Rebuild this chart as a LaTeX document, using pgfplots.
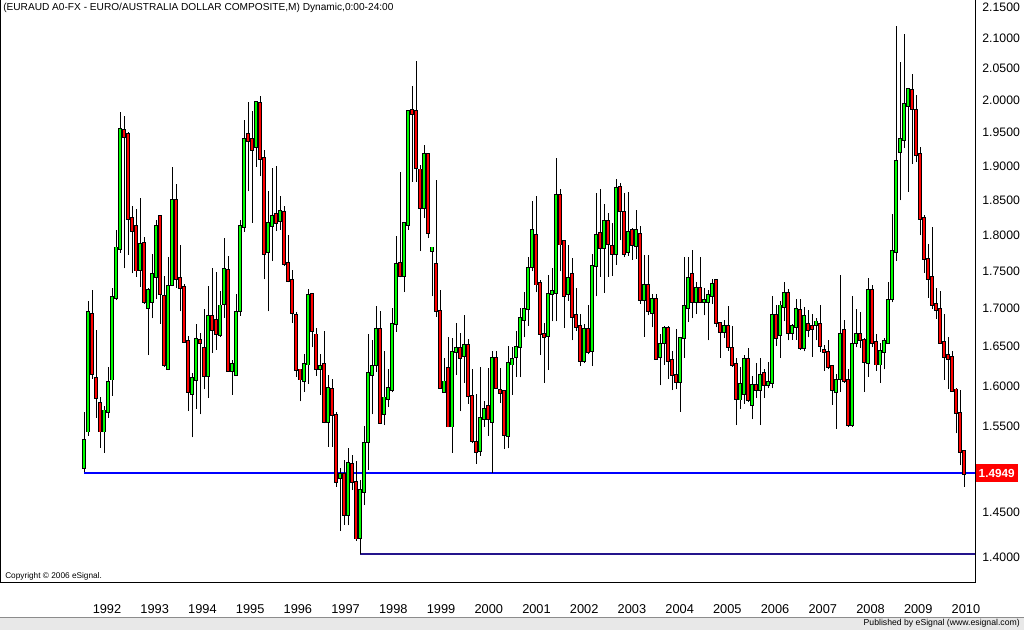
\documentclass[border=0pt]{standalone}
\usepackage{fontspec}
\setmainfont{Liberation Sans}
\usepackage{pgfplots}
\usepackage{pgfplotstable}
\pgfplotsset{compat=1.18}
\definecolor{cgreen}{RGB}{0,255,0}
\definecolor{cred}{RGB}{255,0,0}
\definecolor{navyline}{RGB}{36,20,140}
\definecolor{footgray}{RGB}{232,232,232}

% monthly candles: t = month index, O H L C
\pgfplotstableread{
t O H L C
0 1.502 1.568 1.496 1.533
1 1.545 1.710 1.539 1.695
5 1.545 1.575 1.519 1.569
6 1.569 1.624 1.561 1.604
7 1.609 1.728 1.588 1.714
8 1.715 1.808 1.711 1.782
9 1.782 1.982 1.776 1.955
14 1.753 1.853 1.729 1.787
16 1.701 1.727 1.639 1.724
17 1.710 1.774 1.687 1.746
18 1.743 1.822 1.713 1.812
21 1.622 1.770 1.620 1.729
22 1.732 1.898 1.730 1.850
27 1.591 1.616 1.537 1.609
28 1.608 1.680 1.572 1.659
31 1.613 1.730 1.585 1.689
34 1.666 1.723 1.663 1.703
35 1.707 1.796 1.688 1.753
37 1.620 1.633 1.589 1.627
38 1.615 1.719 1.613 1.695
39 1.697 1.822 1.690 1.812
40 1.813 1.970 1.805 1.939
43 1.929 1.998 1.899 1.997
46 1.777 1.863 1.696 1.816
47 1.814 1.897 1.764 1.827
49 1.821 1.856 1.808 1.834
55 1.607 1.640 1.593 1.627
56 1.628 1.726 1.603 1.717
59 1.622 1.641 1.589 1.625
61 1.556 1.614 1.526 1.597
64 1.490 1.501 1.429 1.493
66 1.447 1.525 1.435 1.506
69 1.422 1.487 1.403 1.475
70 1.474 1.551 1.458 1.530
71 1.532 1.667 1.499 1.616
72 1.615 1.658 1.565 1.625
73 1.627 1.703 1.618 1.672
75 1.566 1.645 1.552 1.585
76 1.585 1.621 1.574 1.597
77 1.596 1.700 1.592 1.679
78 1.680 1.799 1.669 1.759
80 1.744 1.818 1.722 1.817
81 1.816 1.984 1.808 1.983
85 1.840 1.931 1.824 1.918
87 1.779 1.783 1.716 1.782
90 1.593 1.636 1.592 1.605
92 1.551 1.661 1.519 1.643
93 1.644 1.681 1.614 1.648
95 1.639 1.691 1.604 1.651
99 1.522 1.624 1.515 1.560
100 1.560 1.582 1.550 1.571
102 1.557 1.645 1.495 1.635
106 1.540 1.651 1.524 1.628
107 1.628 1.650 1.589 1.633
108 1.637 1.671 1.612 1.649
109 1.650 1.700 1.611 1.686
110 1.686 1.722 1.662 1.698
111 1.700 1.769 1.677 1.754
112 1.757 1.849 1.750 1.807
116 1.665 1.745 1.620 1.719
117 1.720 1.754 1.683 1.723
118 1.721 1.912 1.683 1.856
121 1.720 1.787 1.710 1.740
125 1.633 1.680 1.629 1.672
127 1.645 1.774 1.625 1.757
128 1.758 1.861 1.716 1.799
130 1.783 1.845 1.721 1.820
133 1.775 1.881 1.759 1.867
136 1.777 1.862 1.771 1.804
138 1.786 1.836 1.767 1.806
140 1.712 1.773 1.663 1.731
142 1.695 1.720 1.675 1.712
144 1.637 1.667 1.601 1.653
145 1.656 1.677 1.627 1.673
149 1.606 1.662 1.568 1.661
150 1.662 1.770 1.636 1.702
151 1.701 1.770 1.682 1.740
153 1.709 1.736 1.693 1.726
155 1.710 1.728 1.691 1.711
156 1.710 1.725 1.658 1.717
157 1.717 1.739 1.706 1.732
160 1.670 1.685 1.661 1.676
164 1.584 1.624 1.572 1.602
165 1.591 1.639 1.578 1.634
167 1.577 1.613 1.559 1.600
169 1.596 1.636 1.552 1.613
171 1.602 1.630 1.597 1.604
172 1.605 1.716 1.597 1.690
174 1.666 1.710 1.636 1.703
175 1.703 1.735 1.683 1.720
177 1.669 1.679 1.659 1.676
178 1.677 1.712 1.659 1.699
180 1.649 1.702 1.644 1.689
183 1.679 1.687 1.658 1.682
188 1.593 1.615 1.547 1.607
189 1.610 1.745 1.593 1.666
192 1.553 1.716 1.550 1.653
193 1.655 1.699 1.649 1.666
196 1.630 1.741 1.612 1.724
199 1.628 1.655 1.604 1.644
200 1.644 1.661 1.621 1.656
201 1.656 1.736 1.655 1.710
202 1.713 1.830 1.708 1.777
203 1.778 2.120 1.764 1.906
204 1.922 2.061 1.850 1.939
205 1.940 2.107 1.927 1.993
206 1.993 2.018 1.862 2.017
}\up

\pgfplotstableread{
t O H L C
2 1.692 1.724 1.609 1.616
3 1.609 1.672 1.561 1.586
4 1.578 1.586 1.525 1.545
10 1.954 1.976 1.754 1.945
11 1.948 1.951 1.773 1.824
12 1.824 1.842 1.747 1.807
13 1.812 1.837 1.743 1.752
15 1.788 1.797 1.706 1.710
19 1.826 1.829 1.680 1.720
20 1.716 1.744 1.624 1.627
23 1.850 1.874 1.728 1.740
24 1.740 1.787 1.696 1.728
25 1.728 1.733 1.655 1.657
26 1.657 1.664 1.569 1.593
29 1.658 1.668 1.565 1.655
30 1.647 1.699 1.596 1.613
32 1.689 1.755 1.642 1.672
33 1.684 1.749 1.646 1.667
36 1.751 1.771 1.618 1.620
41 1.948 1.998 1.863 1.939
42 1.939 1.983 1.818 1.925
44 1.995 2.007 1.885 1.912
45 1.911 1.924 1.739 1.775
48 1.830 1.900 1.806 1.819
50 1.832 1.842 1.758 1.761
51 1.761 1.801 1.735 1.738
52 1.737 1.752 1.681 1.695
53 1.691 1.695 1.612 1.621
54 1.620 1.622 1.581 1.609
57 1.718 1.721 1.649 1.671
58 1.665 1.674 1.613 1.622
60 1.627 1.670 1.554 1.556
62 1.596 1.609 1.526 1.565
63 1.564 1.568 1.479 1.485
65 1.493 1.510 1.436 1.447
67 1.505 1.516 1.475 1.485
68 1.484 1.509 1.418 1.421
74 1.672 1.697 1.553 1.555
79 1.761 1.891 1.742 1.744
82 1.984 2.022 1.877 1.980
83 1.982 2.063 1.877 1.898
84 1.894 1.901 1.778 1.840
86 1.918 1.919 1.796 1.804
88 1.759 1.880 1.689 1.697
89 1.696 1.725 1.597 1.598
91 1.622 1.662 1.549 1.551
94 1.647 1.668 1.569 1.636
96 1.651 1.660 1.578 1.588
97 1.587 1.622 1.530 1.534
98 1.531 1.590 1.506 1.520
101 1.574 1.623 1.539 1.560
103 1.635 1.645 1.597 1.598
104 1.594 1.623 1.579 1.592
105 1.593 1.594 1.523 1.541
113 1.799 1.856 1.722 1.733
114 1.733 1.738 1.639 1.667
115 1.666 1.681 1.604 1.663
119 1.856 1.866 1.750 1.788
120 1.791 1.792 1.674 1.717
122 1.745 1.768 1.658 1.690
123 1.691 1.728 1.671 1.677
124 1.676 1.693 1.625 1.632
126 1.672 1.705 1.640 1.644
129 1.802 1.866 1.743 1.783
131 1.819 1.832 1.743 1.789
132 1.784 1.818 1.744 1.775
134 1.869 1.875 1.793 1.835
135 1.832 1.861 1.769 1.775
137 1.806 1.810 1.766 1.787
139 1.801 1.813 1.706 1.712
141 1.731 1.773 1.691 1.697
143 1.712 1.720 1.634 1.635
146 1.674 1.677 1.609 1.632
147 1.632 1.644 1.595 1.615
148 1.613 1.673 1.596 1.606
152 1.745 1.780 1.687 1.709
154 1.726 1.770 1.707 1.710
158 1.737 1.739 1.675 1.682
159 1.680 1.682 1.636 1.670
161 1.676 1.703 1.645 1.650
162 1.648 1.677 1.624 1.627
163 1.627 1.636 1.552 1.585
166 1.634 1.648 1.580 1.583
168 1.600 1.629 1.585 1.596
170 1.615 1.622 1.585 1.602
173 1.690 1.705 1.651 1.662
176 1.720 1.726 1.658 1.668
179 1.697 1.713 1.646 1.649
181 1.679 1.698 1.662 1.673
182 1.676 1.693 1.637 1.674
184 1.679 1.704 1.643 1.652
185 1.645 1.652 1.619 1.644
186 1.643 1.658 1.621 1.625
187 1.624 1.625 1.577 1.596
190 1.671 1.685 1.604 1.607
191 1.607 1.622 1.550 1.553
194 1.666 1.695 1.648 1.659
195 1.658 1.661 1.593 1.631
197 1.724 1.732 1.649 1.655
198 1.655 1.667 1.619 1.628
207 2.015 2.041 1.903 1.988
208 1.984 2.009 1.906 1.917
209 1.917 1.928 1.800 1.824
210 1.824 1.829 1.748 1.768
211 1.766 1.788 1.714 1.741
212 1.741 1.812 1.699 1.705
213 1.705 1.728 1.686 1.699
214 1.698 1.723 1.655 1.656
215 1.655 1.692 1.608 1.637
216 1.638 1.663 1.596 1.635
217 1.636 1.645 1.593 1.595
218 1.595 1.597 1.542 1.568
219 1.566 1.595 1.504 1.520
220 1.520 1.522 1.479 1.4949
}\down

\pgfplotstableread{
t p
0 1.4949
222.75 1.4949
}\lastline

\pgfplotstableread{
t p
69 1.403
222.75 1.403
}\lowline

\begin{document}
\begin{tikzpicture}[x=1pt,y=1pt]
% axis rectangle: (0,0) to (731.25,437.25); picture: (0,-35.25) to (768,437.25)
\useasboundingbox (0,-35.25) rectangle (768,437.25);
\fill[white] (0,-35.25) rectangle (768,437.25);
\fill[footgray] (0,-35.25) rectangle (768,-25.5);
\draw[black!45, line width=0.6pt] (0,-25.5) -- (768,-25.5);
\node[anchor=east, font=\fontsize{6.5}{7}\selectfont, inner sep=0pt] at (765,-30.35) {Published by eSignal (www.esignal.com)};
\begin{axis}[
  scale only axis, width=731.25pt, height=437.25pt,
  xmin=-21, xmax=222.75,
  ymin=0.316127, ymax=0.771497,
  clip=false,
  axis line style={black, line width=0.75pt},
  major tick length=0pt,
  tick style={draw=none},
  xtick={5.75,17.68,29.61,41.54,53.47,65.40,77.33,89.26,101.19,113.12,125.05,136.98,148.91,160.84,172.77,184.70,196.63,208.56,220.49},
  xticklabels={1992,1993,1994,1995,1996,1997,1998,1999,2000,2001,2002,2003,2004,2005,2006,2007,2008,2009,2010},
  xticklabel style={anchor=center, yshift=-19.5pt, font=\fontsize{9.6}{10}\selectfont},
  ytick={0.336472,0.371564,0.438255,0.470004,0.500775,0.530628,0.559616,0.587787,0.615186,0.641854,0.667829,0.693147,0.717840,0.741937,0.765468},
  yticklabels={1.4000,1.4500,1.5500,1.6000,1.6500,1.7000,1.7500,1.8000,1.8500,1.9000,1.9500,2.0000,2.0500,2.1000,2.1500},
  yticklabel pos=right,
  yticklabel style={anchor=west, xshift=2pt, font=\fontsize{9.2}{10}\selectfont},
]
% horizontal reference lines
\addplot[draw=blue, line width=1.5pt, mark=none] table[x=t, y expr={ln(\thisrow{p})}] {\lastline};
\addplot[draw=navyline, line width=1.5pt, mark=none] table[x=t, y expr={ln(\thisrow{p})}] {\lowline};
% wicks
\addplot[draw=none, mark=none, error bars/.cd, y dir=plus, y explicit, error mark=none,
  error bar style={draw=black, line width=0.75pt}]
  table[x=t, y expr={ln(\thisrow{L})}, y error expr={ln(\thisrow{H})-ln(\thisrow{L})}] {\up};
\addplot[draw=none, mark=none, error bars/.cd, y dir=plus, y explicit, error mark=none,
  error bar style={draw=black, line width=0.75pt}]
  table[x=t, y expr={ln(\thisrow{L})}, y error expr={ln(\thisrow{H})-ln(\thisrow{L})}] {\down};
% bodies: outline
\addplot[draw=none, mark=none, error bars/.cd, y dir=plus, y explicit, error mark=none,
  error bar style={draw=black, line width=2.4pt, line cap=rect}]
  table[x=t, y expr={ln(\thisrow{O})}, y error expr={ln(\thisrow{C})-ln(\thisrow{O})}] {\up};
\addplot[draw=none, mark=none, error bars/.cd, y dir=plus, y explicit, error mark=none,
  error bar style={draw=black, line width=2.4pt, line cap=rect}]
  table[x=t, y expr={ln(\thisrow{C})}, y error expr={ln(\thisrow{O})-ln(\thisrow{C})}] {\down};
% bodies: fill
\addplot[draw=none, mark=none, error bars/.cd, y dir=plus, y explicit, error mark=none,
  error bar style={draw=cgreen, line width=1.0pt, line cap=rect}]
  table[x=t, y expr={ln(\thisrow{O})}, y error expr={ln(\thisrow{C})-ln(\thisrow{O})}] {\up};
\addplot[draw=none, mark=none, error bars/.cd, y dir=plus, y explicit, error mark=none,
  error bar style={draw=cred, line width=1.0pt, line cap=rect}]
  table[x=t, y expr={ln(\thisrow{C})}, y error expr={ln(\thisrow{O})-ln(\thisrow{C})}] {\down};
\coordinate (lastlab) at (axis cs:222.75,0.402053);
\end{axis}
\node[anchor=west, inner sep=0pt] at (2.25,431.25) {\fontsize{7.6}{9}\selectfont (EURAUD A0-FX - EURO/AUSTRALIA DOLLAR COMPOSITE,M) Dynamic,0:00-24:00};
\node[anchor=west, inner sep=0pt] at (3.75,4.75) {\fontsize{6.2}{7}\selectfont Copyright \textcopyright{} 2006 eSignal.};
\node[anchor=west, fill=cred, text=white, inner xsep=2.2pt, minimum height=12pt, font=\bfseries\fontsize{8.8}{10}\selectfont] at ([xshift=0.4pt]lastlab) {1.4949};
\end{tikzpicture}
\end{document}
